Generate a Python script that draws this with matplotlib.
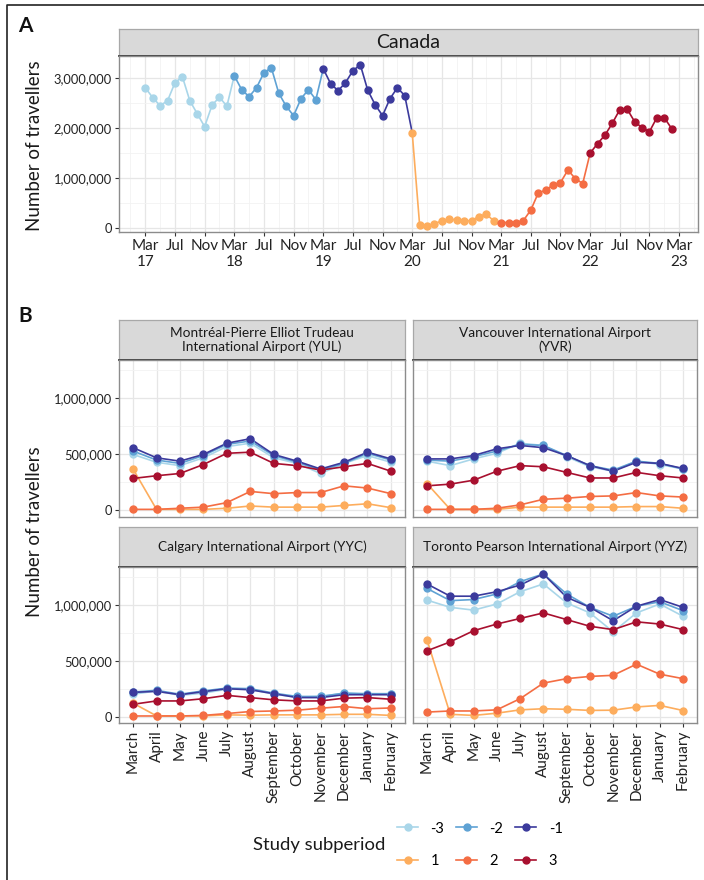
import matplotlib
matplotlib.use("Agg")
import matplotlib.pyplot as plt
from matplotlib.lines import Line2D
from matplotlib.ticker import FuncFormatter, MultipleLocator
import numpy as np

plt.rcParams['font.family'] = ['Lato', 'DejaVu Sans']

W, H = 704, 880  # figure size in pixels at 100 dpi

# ---------------------------------------------------------------- data
periods = ['-3', '-2', '-1', '1', '2', '3']
period_colors = ['#a9d6e9', '#5fa2d4', '#3b3a9c', '#fdad5d', '#f46d43', '#a8102f']

# Canada, monthly travellers, March 2017 .. February 2023 (12 months per subperiod)
canada_travellers = [
    2810000, 2610000, 2450000, 2550000, 2910000, 3030000, 2550000, 2290000, 2030000, 2460000, 2620000, 2440000,
    3050000, 2770000, 2630000, 2810000, 3110000, 3210000, 2700000, 2440000, 2250000, 2590000, 2770000, 2570000,
    3190000, 2890000, 2750000, 2910000, 3150000, 3270000, 2760000, 2470000, 2250000, 2590000, 2810000, 2650000,
    1910000, 60000, 40000, 90000, 140000, 180000, 160000, 140000, 150000, 230000, 280000, 140000,
    110000, 110000, 110000, 150000, 360000, 700000, 760000, 860000, 910000, 1160000, 990000, 890000,
    1500000, 1690000, 1860000, 2100000, 2370000, 2380000, 2130000, 2010000, 1930000, 2210000, 2210000, 1990000,
]
canada_tick_labels = ['Mar\n17', 'Jul', 'Nov', 'Mar\n18', 'Jul', 'Nov', 'Mar\n19', 'Jul', 'Nov',
                      'Mar\n20', 'Jul', 'Nov', 'Mar\n21', 'Jul', 'Nov', 'Mar\n22', 'Jul', 'Nov', 'Mar\n23']

months = ['March', 'April', 'May', 'June', 'July', 'August', 'September',
          'October', 'November', 'December', 'January', 'February']

airport_names = [
    'Montréal-Pierre Elliot Trudeau\nInternational Airport (YUL)',
    'Vancouver International Airport\n(YVR)',
    'Calgary International Airport (YYC)',
    'Toronto Pearson International Airport (YYZ)',
]

# monthly travellers (thousands) by study subperiod
yul = {
    '-3': [500, 430, 400, 470, 570, 600, 470, 420, 330, 420, 490, 430],
    '-2': [530, 450, 420, 490, 590, 620, 490, 430, 360, 420, 510, 450],
    '-1': [560, 470, 440, 500, 600, 640, 500, 440, 370, 430, 520, 460],
    '1':  [370, 10, 10, 10, 20, 40, 30, 30, 30, 45, 60, 25],
    '2':  [10, 10, 20, 30, 70, 170, 150, 160, 160, 220, 200, 150],
    '3':  [286, 310, 330, 410, 510, 520, 420, 400, 360, 390, 420, 350],
}
yvr = {
    '-3': [440, 400, 460, 510, 600, 580, 480, 390, 350, 440, 410, 370],
    '-2': [450, 440, 480, 530, 590, 580, 490, 400, 360, 440, 420, 370],
    '-1': [460, 460, 490, 550, 580, 560, 490, 400, 350, 430, 420, 375],
    '1':  [240, 10, 10, 10, 30, 30, 30, 30, 30, 35, 35, 20],
    '2':  [10, 10, 10, 20, 50, 100, 110, 125, 130, 160, 130, 120],
    '3':  [220, 235, 270, 350, 400, 390, 340, 290, 290, 340, 310, 290],
}
yyc = {
    '-3': [200, 230, 190, 210, 245, 245, 200, 175, 180, 210, 200, 200],
    '-2': [220, 235, 200, 230, 255, 250, 210, 180, 180, 210, 205, 205],
    '-1': [217, 226, 196, 223, 250, 240, 205, 170, 170, 196, 196, 196],
    '1':  [120, 6, 6, 6, 15, 12, 15, 15, 15, 20, 20, 10],
    '2':  [5, 5, 5, 10, 27, 45, 50, 57, 75, 90, 70, 77],
    '3':  [110, 140, 140, 160, 190, 170, 150, 140, 140, 165, 170, 155],
}
yyz = {
    '-3': [1045, 980, 955, 1010, 1120, 1190, 1020, 930, 760, 930, 1010, 900],
    '-2': [1150, 1040, 1050, 1100, 1210, 1280, 1100, 980, 900, 990, 1030, 950],
    '-1': [1190, 1080, 1080, 1120, 1180, 1280, 1070, 980, 860, 990, 1050, 980],
    '1':  [690, 20, 10, 30, 60, 70, 65, 55, 57, 86, 100, 54],
    '2':  [40, 50, 50, 60, 160, 300, 340, 360, 370, 470, 380, 340],
    '3':  [590, 670, 770, 830, 880, 930, 870, 810, 780, 850, 830, 780],
}
airport_data = [yul, yvr, yyc, yyz]

# ---------------------------------------------------------------- helpers
fig = plt.figure(figsize=(W / 100, H / 100), dpi=100)


def fig_rect(x0, y0, x1, y1):
    return [x0 / W, 1 - y1 / H, (x1 - x0) / W, (y1 - y0) / H]


def add_strip(x0, y0, x1, y1, text, size):
    sax = fig.add_axes(fig_rect(x0, y0, x1, y1))
    sax.set_facecolor('#d9d9d9')
    sax.set_xticks([])
    sax.set_yticks([])
    for side in ('top', 'left', 'right'):
        sax.spines[side].set_color('#a8a8a8')
        sax.spines[side].set_linewidth(0.9)
    sax.spines['bottom'].set_color('#333333')
    sax.spines['bottom'].set_linewidth(1.3)
    sax.text(0.5, 0.5, text, ha='center', va='center', fontsize=size,
             color='#1a1a1a', linespacing=1.15, transform=sax.transAxes)
    return sax


def style_panel(ax):
    for side in ax.spines.values():
        side.set_color('#8c8c8c')
        side.set_linewidth(1.0)
    ax.set_axisbelow(True)
    ax.grid(which='major', color='#e6e6e6', lw=0.9)
    ax.grid(which='minor', color='#f2f2f2', lw=0.6)
    ax.tick_params(which='major', length=3, width=0.8, color='#333333',
                   labelcolor='#222222', pad=2)
    ax.tick_params(which='minor', length=0)


comma = FuncFormatter(lambda v, pos: f'{int(round(v)):,}')

# ---------------------------------------------------------------- panel A
add_strip(119, 29, 698, 56, 'Canada', 14)
axA = fig.add_axes(fig_rect(119, 56, 698, 232))
style_panel(axA)
month_idx = np.arange(len(canada_travellers))
vals = np.array(canada_travellers)
for p, col in enumerate(period_colors):
    s = p * 12
    e = min(s + 13, len(vals))  # each segment takes the colour of its start point
    axA.plot(month_idx[s:e], vals[s:e], color=col, lw=1.2, zorder=2)
for p, col in enumerate(period_colors):
    s = p * 12
    axA.plot(month_idx[s:s + 12], vals[s:s + 12], 'o', color=col, ms=5.0, zorder=3)
axA.set_xlim(-3.55, 74.55)
axA.set_ylim(-80000, 3445000)
axA.set_xticks(np.arange(0, 73, 4))
axA.set_xticklabels(canada_tick_labels, fontsize=11, linespacing=1.15)
axA.xaxis.set_minor_locator(MultipleLocator(2))
axA.set_yticks([0, 1000000, 2000000, 3000000])
axA.yaxis.set_minor_locator(MultipleLocator(500000))
axA.yaxis.set_major_formatter(comma)
axA.tick_params(axis='y', labelsize=9.3)

fig.text(18 / W, 1 - 32 / H, 'A', fontsize=15, fontweight='bold', color='#111111')
fig.text(35 / W, 1 - 146 / H, 'Number of travellers', rotation=90,
         ha='center', va='center', fontsize=13.5, color='#1a1a1a')

# ---------------------------------------------------------------- panel B
fig.text(18 / W, 1 - 322 / H, 'B', fontsize=15, fontweight='bold', color='#111111')
fig.text(35 / W, 1 - 532 / H, 'Number of travellers', rotation=90,
         ha='center', va='center', fontsize=13.5, color='#1a1a1a')

cols = [(119, 405), (413, 697)]
rows = [(320, 360, 517), (527, 567, 723)]
x_pos = np.arange(1, len(months) + 1)

for i, (name, data) in enumerate(zip(airport_names, airport_data)):
    r, c = divmod(i, 2)
    x0, x1 = cols[c]
    st, pt, pb = rows[r]
    add_strip(x0, st, x1, pt, name, 9.8)
    ax = fig.add_axes(fig_rect(x0, pt, x1, pb))
    style_panel(ax)
    for per, col in zip(periods, period_colors):
        ax.plot(x_pos, np.array(data[per]) * 1000, color=col, lw=1.2, zorder=2)
    for per, col in zip(periods, period_colors):
        ax.plot(x_pos, np.array(data[per]) * 1000, 'o', color=col, ms=5.0, zorder=3)
    ax.set_xlim(0.4, 12.6)
    ax.set_ylim(-58000, 1342000)
    ax.set_xticks(x_pos)
    ax.set_yticks([0, 500000, 1000000])
    ax.yaxis.set_minor_locator(MultipleLocator(250000))
    ax.yaxis.set_major_formatter(comma)
    if r == 1:
        ax.set_xticklabels(months, rotation=90, ha='center', va='top', fontsize=11)
    else:
        ax.tick_params(axis='x', length=0, labelbottom=False)
    if c == 0:
        ax.tick_params(axis='y', labelsize=9.3)
    else:
        ax.tick_params(axis='y', length=0, labelleft=False)

# ---------------------------------------------------------------- legend
handles = [Line2D([], [], color=col, marker='o', ms=5.0, lw=1.2) for col in period_colors]
order = [0, 3, 1, 4, 2, 5]  # fill rows: -3 -2 -1 / 1 2 3
fig.legend([handles[k] for k in order], [periods[k] for k in order], ncol=3,
           loc='center left', bbox_to_anchor=(397 / W, 1 - 845 / H),
           frameon=False, fontsize=10.5, handlelength=1.45, handletextpad=0.85,
           columnspacing=0.8, labelspacing=1.3, borderpad=0, borderaxespad=0)
fig.text(253 / W, 1 - 845 / H, 'Study subperiod', ha='left', va='center',
         fontsize=13.3, color='#1a1a1a')

# outer frame
fig.add_artist(Line2D([7.5 / W, 7.5 / W, 1.0], [0.0, 1 - 5 / H, 1 - 5 / H],
                      transform=fig.transFigure, color='#222222', lw=1.2))

fig.savefig('out.png', dpi=100)
